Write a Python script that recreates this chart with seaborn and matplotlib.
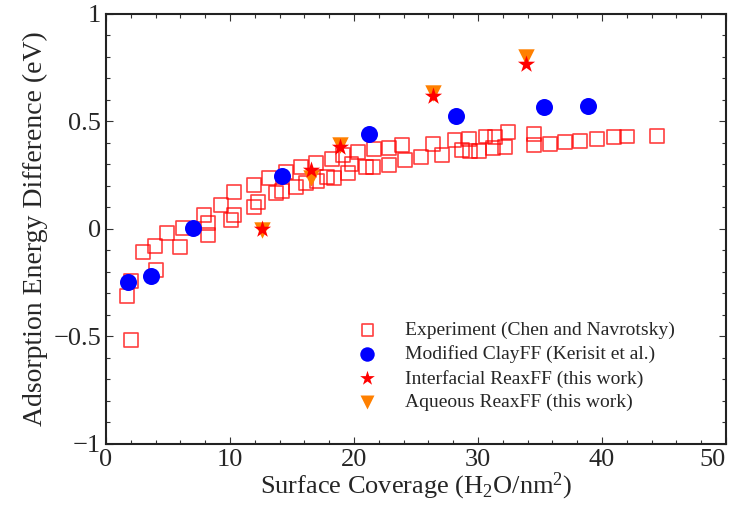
import matplotlib
matplotlib.use("Agg")
import matplotlib.pyplot as plt
from matplotlib.ticker import MultipleLocator, FuncFormatter
import seaborn as sns
import pandas as pd

# Experiment (Chen and Navrotsky)
exp_x = [2.0, 1.67, 2.0, 4.06, 3.0, 3.98, 4.9, 6.0, 6.24, 8.2, 8.25, 7.9, 9.25, 10.35, 10.35,
         10.05, 11.9, 11.9, 12.26, 13.15, 13.7, 14.2, 14.5, 15.35, 15.7, 16.15, 16.9, 17.0,
         17.85, 18.2, 18.4, 19.1, 19.5, 19.8, 20.3, 21.0, 21.55, 21.6, 22.8, 22.8, 23.9, 24.1,
         25.4, 26.4, 27.1, 28.1, 28.7, 29.3, 29.35, 30.1, 30.6, 31.2, 31.4, 32.2, 32.4, 34.5,
         34.5, 35.8, 37.0, 38.2, 39.6, 41.0, 42.0, 44.4]
exp_y = [-0.517, -0.31, -0.24, -0.19, -0.105, -0.08, -0.017, -0.084, 0.003, -0.03, 0.026, 0.064,
         0.11, 0.174, 0.064, 0.042, 0.205, 0.104, 0.124, 0.236, 0.166, 0.178, 0.267, 0.194,
         0.287, 0.212, 0.308, 0.225, 0.243, 0.327, 0.236, 0.344, 0.262, 0.302, 0.358, 0.29,
         0.29, 0.37, 0.378, 0.298, 0.39, 0.32, 0.336, 0.395, 0.344, 0.414, 0.367, 0.42, 0.364,
         0.364, 0.43, 0.378, 0.427, 0.383, 0.45, 0.39, 0.44, 0.394, 0.403, 0.41, 0.419, 0.427,
         0.43, 0.434]

# Modified ClayFF (Kerisit et al.)
clay_x = [1.8, 3.6, 7.04, 14.2, 21.2, 28.2, 35.35, 38.9]
clay_y = [-0.245, -0.217, 0.003, 0.246, 0.44, 0.525, 0.566, 0.572]

# Interfacial ReaxFF (this work)
inter_x = [12.6, 16.55, 18.9, 26.4, 33.9]
inter_y = [0.0, 0.274, 0.383, 0.619, 0.767]

# Aqueous ReaxFF (this work)
aq_x = [12.6, 16.55, 18.9, 26.4, 33.9]
aq_y = [-0.005, 0.236, 0.39, 0.634, 0.80]

x_ticks = [0, 10, 20, 30, 40, 50]
y_ticks = [-1, -0.5, 0, 0.5, 1]

labels = ["Experiment (Chen and Navrotsky)", "Modified ClayFF (Kerisit et al.)",
          "Interfacial ReaxFF (this work)", "Aqueous ReaxFF (this work)"]

sns.set_style("ticks")
plt.rcParams["font.family"] = ["Liberation Serif", "DejaVu Serif"]
plt.rcParams["mathtext.fontset"] = "custom"
plt.rcParams["mathtext.rm"] = "Liberation Serif"
plt.rcParams["mathtext.it"] = "Liberation Serif:italic"

fig = plt.figure(figsize=(7.33, 5.07), dpi=100)
ax = fig.add_axes([0.1446, 0.1243, 0.8459, 0.8481])

df_exp = pd.DataFrame({"x": exp_x, "y": exp_y})
sns.scatterplot(data=df_exp, x="x", y="y", marker="s", s=100, color="red",
                linewidth=1.2, ax=ax, label=labels[0], zorder=2)
c = ax.collections[-1]
c.set_facecolor("none")
c.set_edgecolor((1, 0, 0, 0.75))

sns.scatterplot(x=clay_x, y=clay_y, marker="o", s=150, color="#0000ff",
                linewidth=0, ax=ax, label=labels[1], zorder=3)
sns.scatterplot(x=aq_x, y=aq_y, marker="v", s=140, color="#ff8000",
                linewidth=0, ax=ax, label=labels[3], zorder=4)
sns.scatterplot(x=inter_x, y=inter_y, marker="*", s=170, color="#ff0000",
                linewidth=0, ax=ax, label=labels[2], zorder=5)

ax.set_xlim(0, 50)
ax.set_ylim(-1, 1)
ax.set_xticks(x_ticks)
ax.set_yticks(y_ticks)
ax.xaxis.set_minor_locator(MultipleLocator(2))
ax.yaxis.set_minor_locator(MultipleLocator(0.1))
fmt = lambda v: f"{v:g}".replace("-", "\u2212")
ax.set_xticklabels([fmt(v) for v in x_ticks])
ax.set_yticklabels([fmt(v) for v in y_ticks])
ax.tick_params(which="both", direction="in", top=True, right=True, labelsize=19,
               width=0.8, color="#333333")
ax.tick_params(which="major", length=5)
ax.tick_params(which="minor", length=3)
for s in ax.spines.values():
    s.set_linewidth(1.5)
    s.set_color("#222222")

ax.set_xlabel("Surface Coverage (H$_2$O/nm$^2$)", fontsize=19, labelpad=0)
ax.set_ylabel("Adsorption Energy Difference (eV)", fontsize=20, labelpad=4)

last = ax.xaxis.get_major_ticks()[-1].label1
last.set_horizontalalignment("right")

handles, labs = ax.get_legend_handles_labels()
order = [labs.index(l) for l in labels]
ax.legend([handles[i] for i in order], [labs[i] for i in order], loc="lower left",
          bbox_to_anchor=(0.37, 0.035), frameon=False, fontsize=14, handletextpad=1.2,
          labelspacing=0.32, markerscale=0.85, handlelength=1.5)

fig.savefig("out.png", dpi=100)
